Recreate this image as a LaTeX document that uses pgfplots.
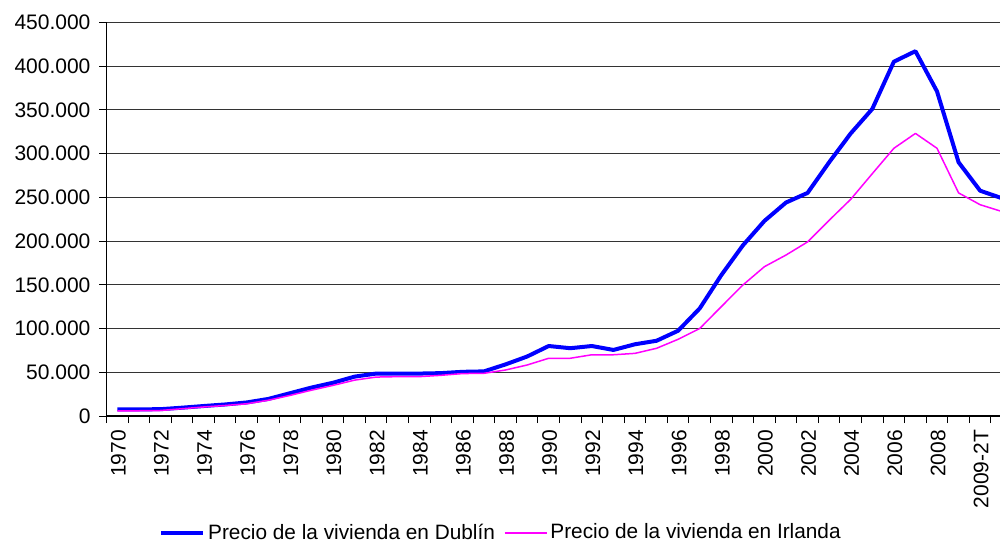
\documentclass[border=0pt]{standalone}
\usepackage{fontspec}
\setmainfont{Liberation Sans}
\usepackage{pgfplots}
\pgfplotsset{compat=1.18}
\usepackage{pgfplotstable}
\definecolor{dub}{RGB}{0,0,255}
\definecolor{irl}{RGB}{255,0,255}
\pgfplotstableread{
x dublin irlanda
0 7.6 6.0
1 7.6 6.0
2 7.8 6.3
3 9.5 8.3
4 11.4 10.3
5 13.2 12.0
6 15.5 14.0
7 19.5 18.0
8 26.0 23.5
9 32.5 29.5
10 38.0 35.0
11 45.0 41.0
12 48.5 44.5
13 48.5 45.0
14 48.5 45.0
15 49.0 46.5
16 50.5 48.5
17 51.0 48.8
18 59.0 52.6
19 68.0 58.3
20 80.0 66.0
21 77.5 66.0
22 80.0 70.0
23 75.5 70.0
24 82.0 71.6
25 86.0 77.4
26 97.5 87.7
27 123.0 100.0
28 161.0 125.0
29 195.0 149.7
30 223.0 170.7
31 244.0 184.0
32 255.0 199.0
33 290.0 223.7
34 323.0 247.7
35 351.0 277.0
36 405.0 306.0
37 417.0 323.0
38 371.0 306.0
39 290.0 255.0
40 257.5 241.5
41 249.0 233.8
}\datatable
\begin{document}
\begin{tikzpicture}
\begin{axis}[
  at={(0pt,0pt)}, anchor=south west,
  scale only axis,
  width=446.75pt, height=196.85pt,
  xmin=-0.5, xmax=40.92,
  ymin=0, ymax=450,
  axis x line*=bottom, axis y line*=left,
  axis line style={black, line width=0.6pt},
  ytick={0,50,...,450},
  yticklabels={0,50.000,100.000,150.000,200.000,250.000,300.000,350.000,400.000,450.000},
  xtick={0,2,...,40},
  xticklabels={1970,1972,1974,1976,1978,1980,1982,1984,1986,1988,1990,1992,1994,1996,1998,2000,2002,2004,2006,2008,2009-2T},
  minor xtick={-0.5,0.5,...,40.5},
  major x tick style={draw=none},
  minor x tick style={black, line width=0.5pt},
  ytick style={black, line width=0.5pt},
  tick align=outside,
  major tick length=3.5pt,
  minor tick length=3.5pt,
  ymajorgrids,
  grid style={black!80, line width=0.5pt},
  tick label style={font=\fontsize{10.5}{12.6}\selectfont, black},
  xticklabel style={rotate=90, anchor=east, yshift=-0.5pt},
  yticklabel style={xshift=-1pt},
  legend style={at={(0.442,-0.297)}, anchor=center, draw=none, fill=none,
    font=\fontsize{10.4}{12.5}\selectfont, legend columns=2,
    nodes={inner xsep=1.5pt},
    /tikz/every even column/.append style={column sep=3pt},
    inner sep=0pt, row sep=0pt},
  legend image code/.code={\draw[#1] (0pt,0pt) -- (21pt,0pt);},
  clip=true,
]
\addplot[dub, line width=2pt, line join=round] table[x=x, y=dublin] {\datatable};
\addlegendentry{Precio de la vivienda en Dublín}
\addplot[irl, line width=0.75pt, line join=round] table[x=x, y=irlanda] {\datatable};
\addlegendentry{Precio de la vivienda en Irlanda}
\end{axis}
\pgfresetboundingbox
\path[use as bounding box] (-53.25pt,-63pt) rectangle (446.75pt,208pt);
\end{tikzpicture}
\end{document}
